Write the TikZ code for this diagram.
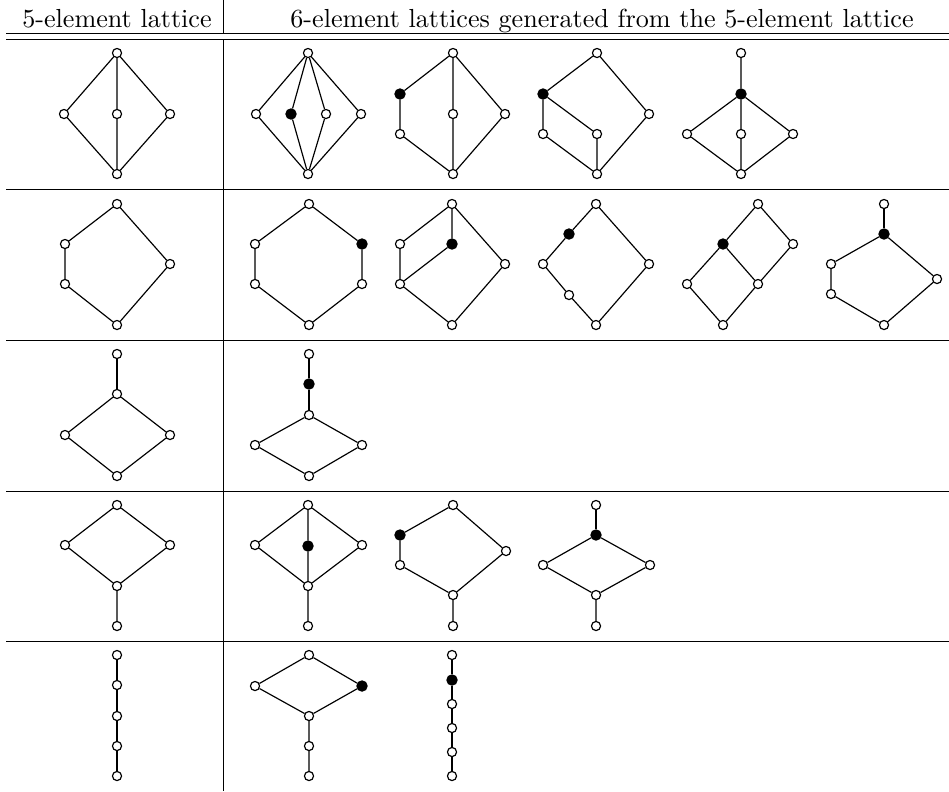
\documentclass[tikz,border=0pt]{standalone}
\tikzset{
  elt/.style={circle,draw,fill=white,inner sep=0pt,minimum size=3.5pt,line width=0.45pt},
  newelt/.style={elt,fill=black,minimum size=3.9pt},
  rule/.style={line width=0.35pt}
}
\begin{document}
\begin{tikzpicture}[x=0.383pt,y=-0.383pt,line width=0.45pt]
	\useasboundingbox (0,0) rectangle (949,791);
	% header and table rules
	\node[anchor=base] (h1) at (117,27.7) {5-element lattice};
	\node[anchor=base] (h2) at (602,27.7) {6-element lattices generated from the 5-element lattice};
	\draw[rule] (6,33) -- (949,33);
	\draw[rule] (6,39) -- (949,39);
	\draw[rule] (6,189.5) -- (949,189.5);
	\draw[rule] (6,340) -- (949,340);
	\draw[rule] (6,491) -- (949,491);
	\draw[rule] (6,641) -- (949,641);
	\draw[rule] (223,0) -- (223,33);
	\draw[rule] (223,39) -- (223,791);

	% row 1
	\node[elt] (a0) at (117,174) {};
	\node[elt] (a1) at (64,114) {};
	\node[elt] (a2) at (117,114) {};
	\node[elt] (a3) at (170,114) {};
	\node[elt] (a4) at (117,53) {};
	\draw (a0) -- (a1) -- (a4) -- (a2) -- (a0) -- (a3) -- (a4);

	\node[elt] (b0) at (308,174) {};
	\node[elt] (b1) at (256,114) {};
	\node[newelt] (b2) at (291,114) {};
	\node[elt] (b3) at (326,114) {};
	\node[elt] (b4) at (361,114) {};
	\node[elt] (b5) at (308,53) {};
	\draw (b0) -- (b1) -- (b5) -- (b2) -- (b0) -- (b3) -- (b5) -- (b4) -- (b0);

	\node[elt] (c0) at (453,174) {};
	\node[elt] (c1) at (400,134) {};
	\node[newelt] (c2) at (400,94) {};
	\node[elt] (c3) at (453,114) {};
	\node[elt] (c4) at (505,114) {};
	\node[elt] (c5) at (453,53) {};
	\draw (c0) -- (c1) -- (c2) -- (c5) -- (c3) -- (c0) -- (c4) -- (c5);

	\node[elt] (d0) at (597,174) {};
	\node[elt] (d1) at (543,134) {};
	\node[newelt] (d2) at (543,94) {};
	\node[elt] (d3) at (597,134) {};
	\node[elt] (d4) at (649,114) {};
	\node[elt] (d5) at (597,53) {};
	\draw (d0) -- (d1) -- (d2) -- (d5) -- (d4) -- (d0) -- (d3) -- (d2);

	\node[elt] (e0) at (741,174) {};
	\node[elt] (e1) at (687,134) {};
	\node[elt] (e2) at (741,134) {};
	\node[elt] (e3) at (793,134) {};
	\node[newelt] (e4) at (741,94) {};
	\node[elt] (e5) at (741,53) {};
	\draw (e0) -- (e1) -- (e4) -- (e2) -- (e0) -- (e3) -- (e4) -- (e5);

	% row 2
	\node[elt] (f0) at (117,325) {};
	\node[elt] (f1) at (65,284) {};
	\node[elt] (f2) at (65,244) {};
	\node[elt] (f3) at (170,264) {};
	\node[elt] (f4) at (117,204) {};
	\draw (f0) -- (f1) -- (f2) -- (f4) -- (f3) -- (f0);

	\node[elt] (g0) at (309,325) {};
	\node[elt] (g1) at (255,284) {};
	\node[elt] (g2) at (255,244) {};
	\node[elt] (g3) at (362,284) {};
	\node[newelt] (g4) at (362,244) {};
	\node[elt] (g5) at (309,204) {};
	\draw (g0) -- (g1) -- (g2) -- (g5) -- (g4) -- (g3) -- (g0);

	\node[elt] (k0) at (452,325) {};
	\node[elt] (k1) at (400,284) {};
	\node[elt] (k2) at (400,244) {};
	\node[newelt] (k3) at (452,244) {};
	\node[elt] (k4) at (505,264) {};
	\node[elt] (k5) at (452,204) {};
	\draw (k0) -- (k1) -- (k2) -- (k5) -- (k4) -- (k0);
	\draw (k1) -- (k3) -- (k5);

	\node[elt] (l0) at (596,325) {};
	\node[elt] (l1) at (569,295) {};
	\node[elt] (l2) at (543,264) {};
	\node[newelt] (l3) at (569,234) {};
	\node[elt] (l4) at (649,264) {};
	\node[elt] (l5) at (596,204) {};
	\draw (l0) -- (l1) -- (l2) -- (l3) -- (l5) -- (l4) -- (l0);

	\node[elt] (n0) at (723,325) {};
	\node[elt] (n1) at (687,284) {};
	\node[elt] (n2) at (758,284) {};
	\node[newelt] (n3) at (723,244) {};
	\node[elt] (n4) at (793,244) {};
	\node[elt] (n5) at (758,204) {};
	\draw (n0) -- (n1) -- (n3) -- (n5) -- (n4) -- (n2) -- (n0);
	\draw (n3) -- (n2);

	\node[elt] (p0) at (884,325) {};
	\node[elt] (p1) at (831,294) {};
	\node[elt] (p2) at (831,264) {};
	\node[elt] (p3) at (937,279) {};
	\node[newelt] (p4) at (884,234) {};
	\node[elt] (p5) at (884,204) {};
	\draw (p0) -- (p1) -- (p2) -- (p4) -- (p3) -- (p0);
	\draw (p4) -- (p5);

	% row 3
	\node[elt] (q0) at (117,476) {};
	\node[elt] (q1) at (65,435) {};
	\node[elt] (q2) at (170,435) {};
	\node[elt] (q3) at (117,394) {};
	\node[elt] (q4) at (117,354) {};
	\draw (q0) -- (q1) -- (q3) -- (q2) -- (q0);
	\draw (q3) -- (q4);

	\node[elt] (r0) at (309,476) {};
	\node[elt] (r1) at (255,445) {};
	\node[elt] (r2) at (362,445) {};
	\node[elt] (r3) at (309,415) {};
	\node[newelt] (r4) at (309,384) {};
	\node[elt] (r5) at (309,354) {};
	\draw (r0) -- (r1) -- (r3) -- (r2) -- (r0);
	\draw (r3) -- (r4) -- (r5);

	% row 4
	\node[elt] (s0) at (117,626) {};
	\node[elt] (s1) at (117,586) {};
	\node[elt] (s2) at (65,545) {};
	\node[elt] (s3) at (170,545) {};
	\node[elt] (s4) at (117,505) {};
	\draw (s0) -- (s1) -- (s2) -- (s4) -- (s3) -- (s1);

	\node[elt] (t0) at (308,626) {};
	\node[elt] (t1) at (308,586) {};
	\node[elt] (t2) at (255,545) {};
	\node[newelt] (t3) at (308,546) {};
	\node[elt] (t4) at (362,545) {};
	\node[elt] (t5) at (308,505) {};
	\draw (t0) -- (t1) -- (t2) -- (t5) -- (t4) -- (t1) -- (t3) -- (t5);

	\node[elt] (u0) at (453,626) {};
	\node[elt] (u1) at (453,595) {};
	\node[elt] (u2) at (400,565) {};
	\node[newelt] (u3) at (400,535) {};
	\node[elt] (u4) at (506,551) {};
	\node[elt] (u5) at (453,505) {};
	\draw (u0) -- (u1) -- (u2) -- (u3) -- (u5) -- (u4) -- (u1);

	\node[elt] (v0) at (596,626) {};
	\node[elt] (v1) at (596,595) {};
	\node[elt] (v2) at (543,565) {};
	\node[elt] (v3) at (650,565) {};
	\node[newelt] (v4) at (596,535) {};
	\node[elt] (v5) at (596,505) {};
	\draw (v0) -- (v1) -- (v2) -- (v4) -- (v3) -- (v1);
	\draw (v4) -- (v5);

	% row 5
	\node[elt] (w0) at (117,776) {};
	\node[elt] (w1) at (117,746) {};
	\node[elt] (w2) at (117,716) {};
	\node[elt] (w3) at (117,685) {};
	\node[elt] (w4) at (117,655) {};
	\draw (w0) -- (w1) -- (w2) -- (w3) -- (w4);

	\node[elt] (x0) at (309,776) {};
	\node[elt] (x1) at (309,746) {};
	\node[elt] (x2) at (309,716) {};
	\node[elt] (x3) at (255,686) {};
	\node[newelt] (x4) at (362,686) {};
	\node[elt] (x5) at (309,655) {};
	\draw (x0) -- (x1) -- (x2) -- (x3) -- (x5) -- (x4) -- (x2);

	\node[elt] (y0) at (452,776) {};
	\node[elt] (y1) at (452,752) {};
	\node[elt] (y2) at (452,728) {};
	\node[elt] (y3) at (452,704) {};
	\node[newelt] (y4) at (452,680) {};
	\node[elt] (y5) at (452,655) {};
	\draw (y0) -- (y1) -- (y2) -- (y3) -- (y4) -- (y5);
\end{tikzpicture}
\end{document}
